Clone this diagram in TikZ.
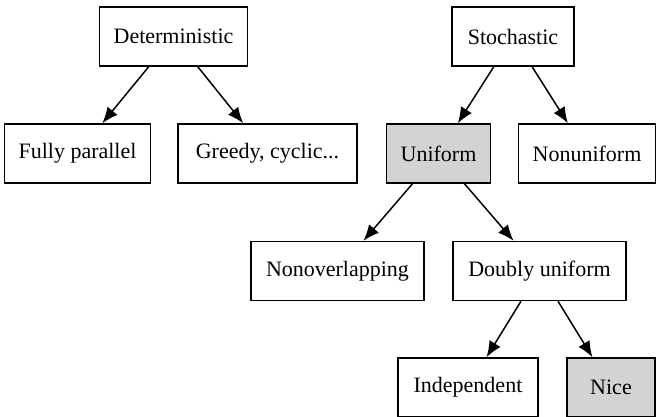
\documentclass[tikz,border=0pt]{standalone}
\usepackage{fontspec}
\setmainfont{Liberation Serif}
\usetikzlibrary{arrows.meta}
\tikzset{
    box/.style={draw=black, line width=1.5pt, fill=white, minimum width=88pt, minimum height=59pt, inner xsep=14pt, font=\fontsize{22}{25}\selectfont},
    chosen/.style={box, fill=lightgrey},
    edge/.style={line width=1.5pt, -{Latex[length=16pt,width=13pt]}}
}
\definecolor{lightgrey}{HTML}{D3D3D3}
\begin{document}
\begin{tikzpicture}[x=1pt, y=-1pt]
                        \useasboundingbox (0,0) rectangle (657,417);
                        \node[box, minimum width=145pt] (determ) at (173.5,36.5) {Deterministic};
                        \node[box, minimum width=122pt] (stoch) at (513,36.5) {Stochastic};
                        \node[box, minimum width=141pt] (fullpar) at (77.5,153.5) {Fully parallel};
                        \node[box, minimum width=179pt] (greedy) at (267.5,153.5) {Greedy, cyclic...};
                        \node[chosen, minimum width=103pt] (unif) at (438.5,153.5) {Uniform};
                        \node[box, minimum width=136pt] (nonunif) at (587,153.5) {Nonuniform};
                        \node[box, minimum width=173pt] (nonover) at (337.5,271) {Nonoverlapping};
                        \node[box, minimum width=173pt] (doubly) at (539.5,271) {Doubly uniform};
                        \node[box, minimum width=140pt] (indep) at (468,387.5) {Independent};
                        \node[chosen, minimum width=88pt] (nice) at (611,387.5) {Nice};
                        \draw[edge] (determ) -- (fullpar);
                        \draw[edge] (determ) -- (greedy);
                        \draw[edge] (stoch) -- (unif);
                        \draw[edge] (stoch) -- (nonunif);
                        \draw[edge] (unif) -- (nonover);
                        \draw[edge] (unif) -- (doubly);
                        \draw[edge] (doubly) -- (indep);
                        \draw[edge] (doubly) -- (nice);
                    \end{tikzpicture}
\end{document}
